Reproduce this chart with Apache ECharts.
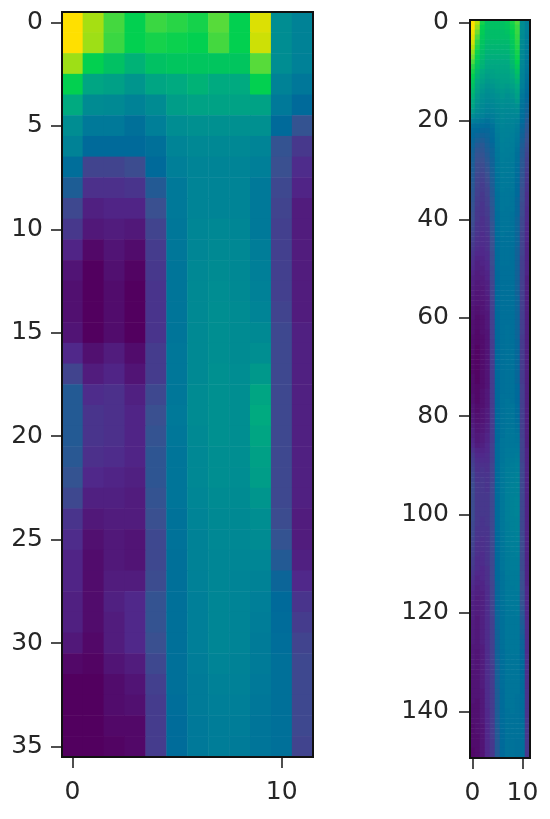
<!DOCTYPE html>
<html>
<head>
<meta charset="utf-8">
<title>heatmaps</title>
<script src="https://cdn.jsdelivr.net/npm/echarts@6/dist/echarts.min.js"></script>
<style>
  html, body { margin: 0; padding: 0; background: #fff; }
  #main { width: 550px; height: 819px; filter: blur(0.6px); }
</style>
</head>
<body>
<div id="main"></div>
<script>
var leftRows = [
  [100,88,77,70,76,74,72,79,70,95,48,42],
  [100,87,76,70,72,71,70,77,70,93,48,42],
  [87,70,66,62,66,67,67,67,67,79,48,41],
  [70,58,56,52,58,60,62,60,60,70,42,36],
  [60,47,46,42,47,55,57,57,57,57,37,30],
  [48,37,37,33,40,48,50,50,50,50,30,21],
  [42,30,30,30,33,43,45,45,45,43,21,14],
  [32,17,17,19,30,40,43,43,43,40,20,11],
  [25,12,12,13,24,37,43,43,43,37,18,9],
  [18,8,9,9,20,37,43,43,43,37,17,7],
  [14,6,7,6,17,36,44,45,44,37,16,7],
  [9,2,5,3,15,36,44,46,45,39,16,7],
  [5,0,4,1,14,35,45,47,45,40,16,7],
  [4,0,3,0,13,35,46,48,46,41,16,7],
  [4,0,3,0,13,35,46,49,47,43,17,7],
  [5,0,3,0,13,35,46,49,47,46,18,8],
  [10,4,7,3,15,36,46,49,47,49,18,8],
  [17,7,9,5,15,36,46,50,48,53,18,8],
  [24,11,12,8,18,36,47,50,49,58,18,8],
  [24,13,12,9,20,37,47,50,49,60,18,8],
  [24,13,12,9,21,36,46,50,49,58,18,8],
  [23,12,11,9,22,35,45,49,49,56,18,8],
  [21,10,9,8,22,35,45,49,48,55,18,8],
  [18,8,8,7,21,35,44,47,47,52,18,8],
  [13,6,7,7,20,34,43,46,46,49,19,7],
  [11,4,6,5,18,34,42,45,45,47,21,7],
  [9,3,6,5,18,33,42,44,44,44,24,8],
  [9,3,7,7,19,33,41,44,43,42,28,10],
  [8,3,8,10,21,33,40,44,43,40,30,13],
  [8,3,7,10,21,33,40,44,43,39,31,15],
  [6,2,7,10,20,33,40,44,43,38,32,17],
  [2,1,5,7,18,33,39,43,42,38,33,18],
  [0,0,3,5,16,33,38,41,41,37,33,18],
  [0,0,3,4,15,32,38,40,40,36,33,18],
  [0,0,2,2,15,31,37,39,39,35,33,18],
  [0,0,1,2,15,31,37,39,38,35,33,17]
];
var rightRows = [
  [100,90,72,66,66,66,66,68,72,78,48,40], // 0
  [100,86,70,66,66,66,66,67,71,76,48,40],
  [98,82,69,65,65,65,65,66,70,76,48,40],
  [96,78,68,65,65,65,65,65,69,75,47,39],
  [94,75,67,64,64,64,64,64,68,74,47,39],
  [90,73,66,63,63,63,63,63,67,73,46,38],
  [86,71,65,62,62,62,62,62,66,72,46,38],
  [82,69,64,61,61,61,61,61,65,71,45,37],
  [78,68,63,60,60,60,60,60,64,70,45,36],
  [74,66,62,59,59,59,59,59,63,68,44,36],
  [72,64,60,57,57,58,58,58,61,66,43,35], // 10
  [70,62,58,55,56,57,57,57,60,64,42,34],
  [68,60,56,53,54,55,56,56,58,62,41,33],
  [66,58,54,51,52,54,55,54,56,60,40,32],
  [64,56,52,49,50,52,53,52,54,58,38,31],
  [62,54,50,47,48,50,52,50,52,56,36,30],
  [60,52,48,45,46,48,50,49,50,54,35,29],
  [58,50,46,43,44,46,48,47,48,50,34,28],
  [54,47,44,41,42,44,46,45,46,47,33,27],
  [48,43,41,38,39,42,45,44,44,44,32,26],
  [40,38,36,34,37,41,44,43,43,41,31,24], // 20
  [34,33,32,31,34,40,43,42,42,39,29,23],
  [31,30,29,29,32,39,42,41,41,38,28,22],
  [30,28,27,28,31,38,41,41,40,37,27,21],
  [29,26,25,27,30,37,41,40,40,36,26,20],
  [28,24,23,26,29,37,40,40,39,35,25,19],
  [27,22,22,25,28,36,40,39,39,34,24,18],
  [26,21,21,24,28,36,39,39,38,33,24,17],
  [26,20,20,23,27,35,39,38,38,33,23,16],
  [25,19,19,22,27,35,38,38,37,32,23,16],
  [25,19,18,21,26,35,38,38,37,32,22,15], // 30
  [24,18,17,20,26,34,38,37,37,31,22,14],
  [24,17,16,19,25,34,37,37,36,31,21,14],
  [23,17,15,18,25,34,37,37,36,30,21,13],
  [23,16,15,17,24,34,37,36,36,30,20,13],
  [22,16,14,17,24,33,36,36,35,30,20,12],
  [22,15,14,16,23,33,36,36,35,29,20,12],
  [21,15,13,16,23,33,36,36,35,29,19,12],
  [21,14,13,15,22,33,36,35,35,29,19,11],
  [20,14,13,15,22,32,35,35,34,29,19,11],
  [20,14,12,14,22,32,35,35,34,28,18,11], // 40
  [19,13,12,14,21,32,35,35,34,28,18,10],
  [18,13,12,13,21,32,35,35,34,28,18,10],
  [17,13,11,13,21,32,35,34,34,28,17,10],
  [16,12,11,12,20,31,34,34,34,28,17,10],
  [15,12,11,12,20,31,34,34,33,28,17,9],
  [14,11,10,12,20,31,34,34,33,27,17,9],
  [13,10,10,11,19,31,34,34,33,27,17,9],
  [12,9,9,11,19,31,34,34,33,27,16,9],
  [11,8,9,10,19,31,34,34,33,27,16,9],
  [10,8,8,10,18,31,33,33,33,27,16,9], // 50
  [9,7,8,9,18,30,33,33,33,27,16,9],
  [8,7,7,9,18,30,33,33,33,27,16,8],
  [8,6,7,8,17,30,33,33,33,27,16,8],
  [7,6,6,8,17,30,33,33,33,27,16,8],
  [7,5,6,8,17,30,33,33,33,27,16,8],
  [6,5,6,7,17,30,33,33,33,28,16,8],
  [6,5,5,7,16,30,33,33,33,28,16,8],
  [5,4,5,7,16,30,33,33,33,28,16,8],
  [5,4,5,6,16,30,33,33,33,28,16,8],
  [5,3,4,6,16,30,33,33,33,28,16,8], // 60
  [4,3,4,6,16,30,33,33,33,28,16,8],
  [4,3,4,6,16,30,33,34,33,28,16,8],
  [4,2,4,5,16,30,33,34,33,28,16,8],
  [3,2,3,5,16,30,33,34,33,28,15,8],
  [3,2,3,5,15,30,33,34,33,29,15,8],
  [3,1,3,5,15,30,33,34,33,29,15,8],
  [3,1,3,5,15,30,33,34,34,29,15,8],
  [2,1,3,5,15,30,33,34,34,29,15,8],
  [2,1,3,5,15,30,33,34,34,29,15,8],
  [2,1,3,5,15,30,33,34,34,29,15,8], // 70
  [2,1,3,5,15,30,33,34,34,29,15,8],
  [3,1,3,5,15,30,33,34,34,29,15,8],
  [3,1,3,5,15,30,33,34,34,29,15,8],
  [3,2,3,5,15,30,33,34,34,30,16,8],
  [3,2,4,6,15,30,33,34,34,30,16,8],
  [4,2,4,6,15,30,34,34,34,30,16,8],
  [4,2,4,6,15,30,34,35,34,30,16,8],
  [5,3,4,6,15,30,34,35,35,31,16,8],
  [5,3,5,7,15,30,34,35,35,31,16,8],
  [6,4,5,7,15,30,34,35,35,31,16,8], // 80
  [6,4,5,7,15,30,34,35,35,32,16,8],
  [7,5,6,8,15,30,34,35,35,33,16,8],
  [8,5,6,8,15,30,34,36,36,34,16,8],
  [8,6,7,9,15,30,34,36,36,35,16,8],
  [9,6,7,9,15,30,35,36,36,35,17,8],
  [10,7,8,10,16,31,35,36,36,36,17,8],
  [12,9,9,10,16,31,35,37,37,37,17,9],
  [14,10,10,11,16,31,35,37,37,38,17,9],
  [15,11,11,11,16,31,35,38,38,39,17,9],
  [16,12,12,12,17,31,36,38,39,40,18,9], // 90
  [17,12,13,12,17,31,36,39,39,40,18,9],
  [18,13,13,13,17,31,36,39,40,41,18,9],
  [18,13,14,13,17,31,36,39,40,41,18,9],
  [19,14,14,13,18,31,36,39,41,42,18,9],
  [19,14,14,13,18,31,36,40,41,42,18,9],
  [19,14,14,14,18,31,36,40,41,42,18,9],
  [19,14,14,14,18,31,36,40,42,43,18,9],
  [19,14,14,14,18,31,36,40,42,43,18,9],
  [19,14,14,14,18,31,36,40,42,43,18,9],
  [19,14,14,14,18,31,36,40,42,43,18,9], // 100
  [19,14,13,14,18,31,36,40,41,42,18,9],
  [18,14,13,14,18,31,36,39,41,42,18,9],
  [18,13,13,13,18,31,36,39,41,42,18,9],
  [18,13,13,13,18,30,35,39,40,41,18,9],
  [17,13,12,13,18,30,35,39,40,41,19,9],
  [17,12,12,13,18,30,35,39,40,40,19,9],
  [16,12,12,13,18,30,35,38,40,40,19,9],
  [16,12,11,13,18,30,35,38,39,40,19,9],
  [15,11,11,13,18,30,35,38,39,39,19,9],
  [15,11,11,13,18,30,35,38,39,39,19,9], // 110
  [14,11,10,12,18,30,35,38,39,39,19,9],
  [13,10,10,12,18,30,34,38,38,38,20,9],
  [12,9,10,12,18,30,34,37,38,38,20,9],
  [11,9,9,12,17,29,34,37,38,38,20,9],
  [10,8,9,11,17,29,34,37,37,38,20,10],
  [9,8,8,11,17,29,34,37,37,37,21,10],
  [9,7,8,11,17,29,34,37,37,37,21,10],
  [8,7,8,11,17,29,34,37,37,37,21,10],
  [8,7,8,11,17,29,34,36,37,37,22,10],
  [8,7,8,11,17,28,33,36,36,37,23,10], // 120
  [8,6,8,11,16,28,33,36,36,36,24,10],
  [7,6,8,11,16,28,33,36,36,36,25,11],
  [7,6,8,11,16,28,33,36,36,36,26,11],
  [7,6,8,11,16,27,33,36,36,36,26,11],
  [7,6,8,11,16,27,33,36,36,36,27,11],
  [7,6,8,11,16,27,33,36,36,36,28,11],
  [6,6,7,11,16,27,33,36,36,36,28,11],
  [6,5,7,11,16,27,32,35,36,36,29,11],
  [6,5,7,11,16,27,32,35,35,35,29,12],
  [6,5,7,11,16,26,32,35,35,35,30,12], // 130
  [6,5,7,11,15,26,32,35,35,35,30,12],
  [5,5,7,11,15,26,32,35,35,35,30,12],
  [5,5,7,11,15,26,32,35,35,35,31,12],
  [5,5,7,11,15,26,32,35,35,35,31,12],
  [5,5,7,11,15,26,32,35,35,35,31,12],
  [5,5,6,11,15,25,31,35,35,35,31,13],
  [5,5,6,11,15,25,31,35,35,34,32,13],
  [5,4,6,11,15,25,31,35,35,34,32,13],
  [4,4,6,11,15,25,31,35,35,34,32,13],
  [4,4,6,10,15,25,31,34,35,34,32,13], // 140
  [4,4,6,10,15,25,31,34,34,34,32,13],
  [4,4,6,10,15,25,31,34,34,34,32,14],
  [3,4,5,10,15,25,31,34,34,34,33,14],
  [3,4,5,10,15,24,30,34,34,34,33,14],
  [3,3,5,10,15,24,30,34,34,34,33,14],
  [3,3,5,10,14,24,30,34,34,33,33,14],
  [3,3,5,10,14,24,30,34,34,33,33,14],
  [2,3,5,10,14,24,30,34,34,33,33,14],
  [2,3,5,10,14,24,30,34,34,33,33,14]
];
var leftYTicks = [0, 5, 10, 15, 20, 25, 30, 35];
var rightYTicks = [0, 20, 40, 60, 80, 100, 120, 140];
var xTicks = [0, 10];
var colorScale = ['#52005f', '#50288a', '#3a5090', '#006a9a', '#007f98', '#009090', '#00aa80', '#02d050', '#60dc38', '#b8e008', '#ffe000'];

function toCells(rows) {
    var cells = [];
    rows.forEach(function (row, y) {
        row.forEach(function (v, x) {
            cells.push([x, y, v]);
        });
    });
    return cells;
}

function indexList(n) {
    var list = [];
    for (var i = 0; i < n; i++) list.push(String(i));
    return list;
}

function pick(ticks) {
    return function (i) { return ticks.indexOf(i) >= 0; };
}

function makeAxis(n, ticks, margin, padding, extra) {
    return Object.assign({
        type: 'category',
        data: indexList(n),
        splitLine: { show: false },
        splitArea: { show: false },
        axisLine: { show: false },
        axisTick: {
            show: true,
            alignWithLabel: true,
            length: 11,
            interval: pick(ticks),
            lineStyle: { color: '#222', width: 1.6 }
        },
        axisLabel: {
            show: true,
            interval: pick(ticks),
            hideOverlap: false,
            color: '#262626',
            fontFamily: 'DejaVu Sans',
            fontSize: 25,
            margin: margin,
            padding: padding
        }
    }, extra);
}

function gridBox(left, top, width, height) {
    return {
        show: true, left: left, top: top, width: width, height: height,
        z: 5, backgroundColor: 'transparent', borderColor: '#111', borderWidth: 2,
        containLabel: false
    };
}

var nCols = leftRows[0].length;
var option = {
    animation: false,
    grid: [gridBox(62, 12, 251, 745), gridBox(470, 20, 60, 738)],
    xAxis: [
        makeAxis(nCols, xTicks, 23, 0, { gridIndex: 0, position: 'bottom' }),
        makeAxis(nCols, xTicks, 23, 0, { gridIndex: 1, position: 'bottom' })
    ],
    yAxis: [
        makeAxis(leftRows.length, leftYTicks, 19, [4, 0, 0, 0], { gridIndex: 0, inverse: true }),
        makeAxis(rightRows.length, rightYTicks, 21, [4, 0, 0, 0], { gridIndex: 1, inverse: true })
    ],
    visualMap: {
        show: false,
        type: 'continuous',
        min: 0,
        max: 100,
        dimension: 2,
        seriesIndex: [0, 1],
        inRange: { color: colorScale }
    },
    series: [
        { type: 'heatmap', xAxisIndex: 0, yAxisIndex: 0, data: toCells(leftRows), progressive: 0 },
        { type: 'heatmap', xAxisIndex: 1, yAxisIndex: 1, data: toCells(rightRows), progressive: 0 }
    ]
};

var myChart = echarts.init(document.getElementById('main'), null, { renderer: 'canvas' });
myChart.setOption(option);
</script>
</body>
</html>
